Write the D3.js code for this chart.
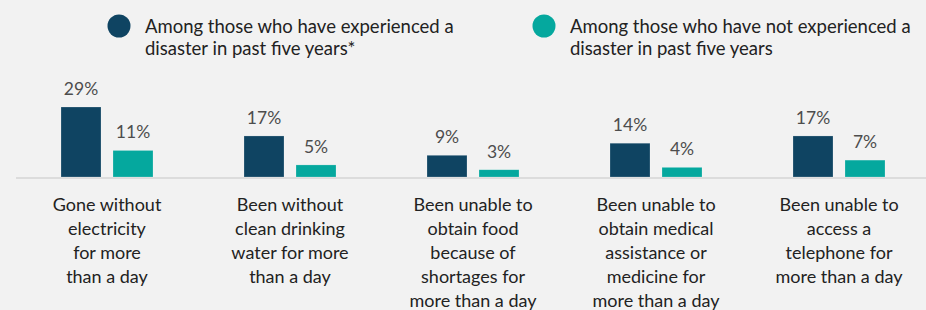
<!DOCTYPE html>
<html>
<head>
<meta charset="utf-8">
<script src="https://cdn.jsdelivr.net/npm/d3@7"></script>
<style>
  body { margin: 0; background: #f2f2f2; }
  svg { display: block; font-family: Lato, "Noto Sans", sans-serif; }
</style>
</head>
<body>
<div id="chart"></div>
<script>
// Data__________________________________________________________
const categories = [
    ['Gone without', 'electricity', 'for more', 'than a day'],
    ['Been without', 'clean drinking', 'water for more', 'than a day'],
    ['Been unable to', 'obtain food', 'because of', 'shortages for', 'more than a day'],
    ['Been unable to', 'obtain medical', 'assistance or', 'medicine for', 'more than a day'],
    ['Been unable to', 'access a', 'telephone for', 'more than a day']
];
const experienced = [29, 17, 9, 14, 17];
const notExperienced = [11, 5, 3, 4, 7];
const seriesNames = [
    ['Among those who have experienced a', 'disaster in past five years*'],
    ['Among those who have not experienced a', 'disaster in past five years']
];
const colors = ['#0f4462', '#05a89e'];

// Sizes_________________________________________________________
const width = 926;
const height = 310;
const baseY = 177;

const svg = d3.select('#chart')
    .append('svg')
    .attr('width', width)
    .attr('height', height);

const x0 = d3.scaleBand()
    .domain(d3.range(categories.length))
    .range([15.5, 930.5]);

const x1 = d3.scaleBand()
    .domain([0, 1])
    .range([45.5, 137.5])
    .paddingInner(12 / 52);

const y = d3.scaleLinear()
    .domain([0, d3.max(experienced)])
    .range([baseY, 107]);

// baseline
svg.append('line')
    .attr('x1', 16)
    .attr('x2', width)
    .attr('y1', baseY + 1)
    .attr('y2', baseY + 1)
    .attr('stroke', '#dcdcdc')
    .attr('stroke-width', 2);

// bars
const series = [experienced, notExperienced];
series.forEach((vals, s) => {
    const g = svg.append('g');
    g.selectAll('rect')
        .data(vals)
        .enter()
        .append('rect')
        .attr('x', (d, i) => x0(i) + x1(s))
        .attr('y', d => y(d))
        .attr('width', x1.bandwidth())
        .attr('height', d => baseY - y(d))
        .attr('fill', colors[s])
        .attr('stroke', 'rgba(255,255,255,0.35)')
        .attr('stroke-width', 0.6);

    g.selectAll('text')
        .data(vals)
        .enter()
        .append('text')
        .attr('x', (d, i) => x0(i) + x1(s) + x1.bandwidth() / 2)
        .attr('y', d => y(d) - 12)
        .attr('text-anchor', 'middle')
        .attr('font-size', 17.5)
        .attr('fill', '#4d4d4d')
        .text(d => d + '%');
});

// category labels
const catLabel = svg.append('g')
    .selectAll('text')
    .data(categories)
    .enter()
    .append('text')
    .attr('text-anchor', 'middle')
    .attr('font-size', 18)
    .attr('fill', '#222');

catLabel.selectAll('tspan')
    .data((d, i) => d.map(line => ({ line, i })))
    .enter()
    .append('tspan')
    .attr('x', d => x0(d.i) + x0.bandwidth() / 2)
    .attr('y', (d, j) => 211 + j * 24)
    .text(d => d.line);

// legend
const legendX = [119, 544];
const legend = svg.append('g')
    .selectAll('g')
    .data(seriesNames)
    .enter()
    .append('g')
    .attr('transform', (d, i) => `translate(${legendX[i]}, 26)`);

legend.append('circle')
    .attr('r', 11.5)
    .attr('fill', (d, i) => colors[i]);

legend.append('text')
    .attr('font-size', 18.5)
    .attr('fill', '#222')
    .selectAll('tspan')
    .data(d => d)
    .enter()
    .append('tspan')
    .attr('x', 26)
    .attr('y', (d, j) => 6.5 + j * 22.5)
    .text(d => d);
</script>
</body>
</html>
